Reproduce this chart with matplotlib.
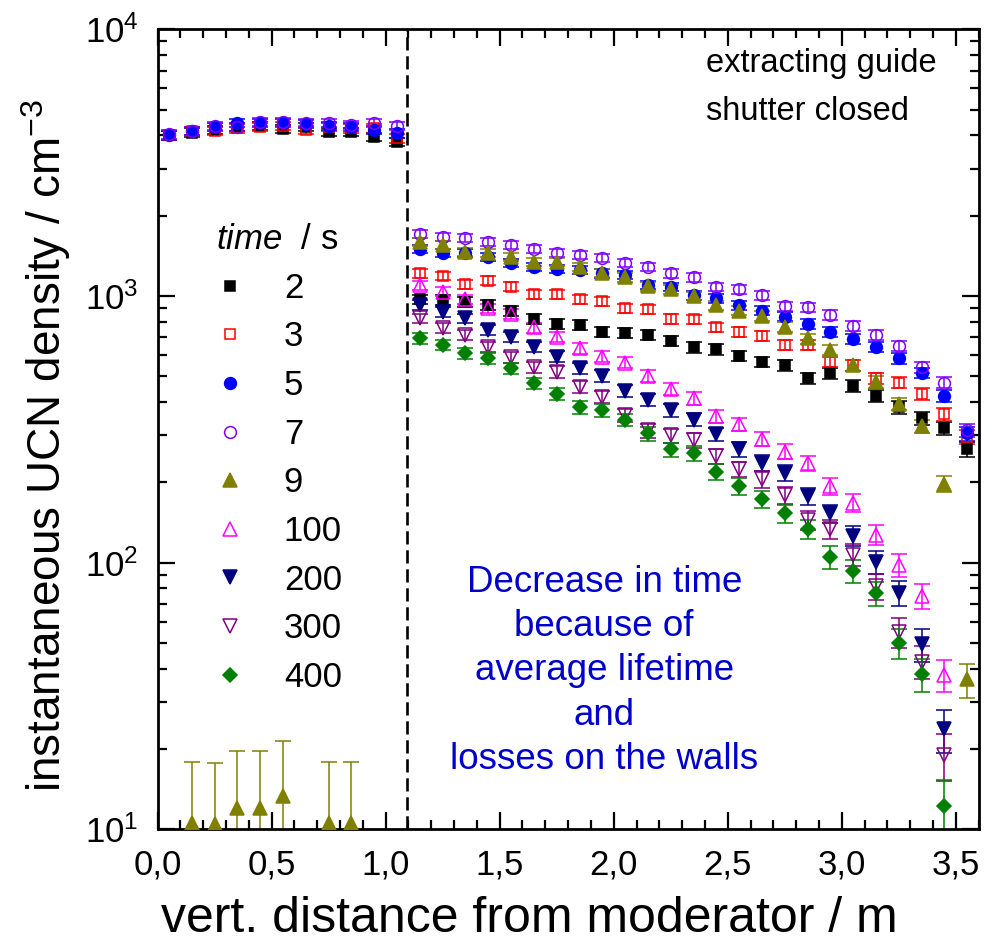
import numpy as np
import matplotlib
matplotlib.use("Agg")
from matplotlib import pyplot as plt
from matplotlib.ticker import LogLocator, NullFormatter, MultipleLocator, FuncFormatter

plt.rcParams['font.family'] = ['Liberation Sans', 'DejaVu Sans']
plt.rcParams['mathtext.fontset'] = 'custom'
plt.rcParams['mathtext.rm'] = 'Liberation Sans'
plt.rcParams['mathtext.it'] = 'Liberation Sans:italic'
plt.rcParams['mathtext.default'] = 'regular'

# positions along the guide (m)
x_left = [0.05, 0.15, 0.25, 0.35, 0.45, 0.55, 0.65, 0.75, 0.85, 0.95, 1.05]
x_right = [1.15, 1.25, 1.35, 1.45, 1.55, 1.65, 1.75, 1.85, 1.95, 2.05, 2.15, 2.25, 2.35,
           2.45, 2.55, 2.65, 2.75, 2.85, 2.95, 3.05, 3.15, 3.25, 3.35, 3.45, 3.55]

# time 2 s
y_2 = [4000, 4100, 4200, 4300, 4350, 4220, 4300, 4130, 4130, 3950, 3780,
       971, 966, 948, 925, 881, 817, 785, 778, 735, 728, 713, 679, 641,
       631, 596, 566, 551, 491, 513, 459, 422, 382, 348, 319, 266]
e_2 = [150, 150, 150, 150, 150, 150, 150, 150, 150, 140, 140,
       40, 40, 40, 38, 37, 35, 34, 34, 32, 32, 31, 30, 29,
       28, 27, 26, 26, 24, 25, 23, 22, 21, 20, 19, 17]
# time 3 s
y_3 = [4000, 4150, 4150, 4250, 4300, 4350, 4200, 4300, 4250, 4250, 3900,
       1216, 1189, 1109, 1140, 1082, 1016, 1016, 971, 957, 898, 891, 822, 817,
       762, 735, 708, 655, 655, 566, 551, 491, 473, 429, 361, 297]
e_3 = [150, 150, 150, 150, 150, 150, 150, 150, 150, 150, 140,
       45, 45, 43, 43, 42, 40, 40, 38, 38, 36, 36, 34, 34,
       32, 31, 30, 29, 29, 26, 26, 24, 23, 22, 20, 18]
# time 5 s
y_5 = [4000, 4150, 4300, 4450, 4450, 4450, 4400, 4350, 4300, 4200, 4070,
       1496, 1445, 1445, 1396, 1334, 1288, 1259, 1250, 1216, 1197, 1099, 1082, 1007,
       979, 925, 881, 836, 785, 735, 688, 645, 583, 515, 422, 305]
e_5 = [150, 150, 150, 150, 150, 150, 150, 150, 150, 150, 150,
       52, 50, 50, 49, 47, 46, 45, 45, 44, 43, 41, 40, 38,
       37, 36, 35, 33, 32, 31, 29, 28, 26, 24, 21, 18]
# time 7 s
y_7 = [4036, 4164, 4330, 4300, 4500, 4500, 4460, 4440, 4380, 4440, 4330,
       1706, 1660, 1644, 1596, 1552, 1496, 1452, 1422, 1390, 1334, 1288, 1216, 1175,
       1083, 1059, 1007, 916, 906, 848, 771, 713, 649, 540, 473, 314]
e_7 = [150, 150, 150, 150, 150, 150, 150, 150, 150, 150, 150,
       58, 57, 57, 55, 54, 52, 51, 50, 49, 47, 46, 44, 43,
       40, 40, 38, 36, 36, 34, 32, 30, 28, 25, 23, 18]
# time 9 s
x_9 = [0.15, 0.25, 0.35, 0.45, 0.55, 0.75, 0.85] + x_right
y_9 = [10.6, 10.5, 12.0, 12.0, 13.3, 10.6, 10.6,
       1596, 1552, 1466, 1452, 1403, 1343, 1343, 1288, 1222, 1175, 1089, 1059, 1000,
       925, 881, 841, 767, 693, 627, 551, 477, 394, 324, 198, 36.5]
e_9 = [7.3, 7.3, 7.7, 7.7, 8.2, 7.3, 7.3,
       55, 54, 52, 51, 50, 48, 48, 46, 45, 43, 41, 40, 38,
       36, 35, 34, 32, 30, 28, 26, 24, 21, 19, 14, 5.3]
# time 100 s
y_100 = [1099, 1038, 971, 898, 855, 762, 703, 637, 592, 562, 501, 447, 413,
         355, 331, 292, 261, 236, 194, 168, 127, 98, 75, 37.9]
e_100 = [42, 40, 38, 36, 35, 33, 31, 29, 28, 27, 25, 23, 22,
         20, 19, 18, 17, 16, 14, 13, 11, 9.5, 8, 5.3]
# time 200 s
y_200 = [925, 873, 824, 745, 700, 645, 592, 536, 501, 441, 407, 373, 344,
         303, 266, 237, 217, 177, 153, 126, 100.7, 77, 49.5, 23.7]
e_200 = [37, 36, 34, 32, 31, 29, 28, 26, 25, 23, 22, 20, 19,
         18, 17, 16, 15, 13, 12, 11, 10, 8.5, 7, 4.3]
# time 300 s
y_300 = [824, 757, 713, 645, 589, 540, 520, 457, 419, 357, 313, 300, 288,
         251, 224, 205, 179, 144.5, 134, 107, 81.7, 55, 42.5, 19.0]
e_300 = [34, 32, 31, 29, 28, 26, 26, 24, 22, 20, 19, 18, 18,
         16, 15, 15, 13, 12, 11, 10, 9, 7, 6, 3.8]
# time 400 s
y_400 = [693, 655, 609, 583, 536, 470, 429, 382, 372, 343, 305, 266, 257,
         219, 194, 173, 153, 134, 105, 93, 76.7, 50, 38.2, 12.2]
e_400 = [31, 30, 28, 27, 26, 24, 22, 21, 20, 19, 18, 16, 16,
         15, 14, 13, 12, 11, 10, 9, 8, 6.5, 5.5, 3.1]

xticks = [0.0, 0.5, 1.0, 1.5, 2.0, 2.5, 3.0, 3.5]
x_shutter = 1.095

x_all = x_left + x_right
series = [
    ('2', x_all, y_2, e_2, 's', '#000000', True, 7.5),
    ('3', x_all, y_3, e_3, 's', '#FF0000', False, 7.5),
    ('5', x_all, y_5, e_5, 'o', '#0000FF', True, 8.5),
    ('7', x_all, y_7, e_7, 'o', '#8000FF', False, 8.5),
    ('9', x_9, y_9, e_9, '^', '#808000', True, 10),
    ('100', x_right[:-1], y_100, e_100, '^', '#FF00FF', False, 10),
    ('200', x_right[:-1], y_200, e_200, 'v', '#000080', True, 10),
    ('300', x_right[:-1], y_300, e_300, 'v', '#800080', False, 10),
    ('400', x_right[:-1], y_400, e_400, 'D', '#008000', True, 7.5),
]

fig = plt.figure(figsize=(9.88, 9.41), dpi=100)
ax = fig.add_axes([0.1596, 0.1187, 0.8308, 0.8502])

for label, xs, ys, es, mk, col, filled, ms in series:
    ax.errorbar(xs, ys, yerr=es, fmt='none', ecolor=col, elinewidth=1.1,
                capsize=6, capthick=1.1, zorder=2)
    ax.plot(xs, ys, linestyle='none', marker=mk, markersize=ms,
            color=col, markerfacecolor=col if filled else 'none',
            markeredgewidth=1.1, label=label, zorder=3)

# shutter position
ax.axvline(x_shutter, color='black', linestyle=(0, (5, 2.2)), linewidth=1.9, zorder=1)

ax.set_yscale('log')
ax.set_xlim(0, 3.6)
ax.set_ylim(10, 1e4)
ax.set_xticks(xticks)
ax.xaxis.set_minor_locator(MultipleLocator(0.1))
ax.xaxis.set_major_formatter(FuncFormatter(lambda v, p: f"{v:.1f}".replace('.', ',')))
ax.yaxis.set_minor_locator(LogLocator(base=10, subs=np.arange(2, 10)))
ax.yaxis.set_minor_formatter(NullFormatter())

ax.tick_params(which='both', direction='in', top=True, right=True, width=1.6, labelsize=25)
ax.tick_params(which='major', length=12, pad=14)
ax.tick_params(which='minor', length=6.5)
for sp in ax.spines.values():
    sp.set_linewidth(2)

ax.set_xlabel('vert. distance from moderator / m', fontsize=36)
ax.xaxis.set_label_coords(0.453, -0.083)
ax.set_ylabel('instantaneous UCN density / cm$^{-3}$', fontsize=33)
ax.yaxis.set_label_coords(-0.103, 0.48)

leg = ax.legend(loc='upper left', bbox_to_anchor=(0.05, 0.775), frameon=False,
                fontsize=25, title='$\\it{time}$  / s', title_fontsize=25,
                handlelength=1.0, handletextpad=1.05, labelspacing=0.45,
                borderaxespad=0, numpoints=1)

ax.text(0.668, 0.947, 'extracting guide', transform=ax.transAxes, fontsize=23.5,
        ha='left', va='baseline')
ax.text(0.668, 0.886, 'shutter closed', transform=ax.transAxes, fontsize=23.5,
        ha='left', va='baseline')

ax.text(0.544, 0.198, 'Decrease in time\nbecause of\naverage lifetime\nand\nlosses on the walls',
        transform=ax.transAxes, fontsize=26.5, color='#0000CC', ha='center', va='center',
        multialignment='center', linespacing=1.34)

fig.savefig('out.png', dpi=100)
